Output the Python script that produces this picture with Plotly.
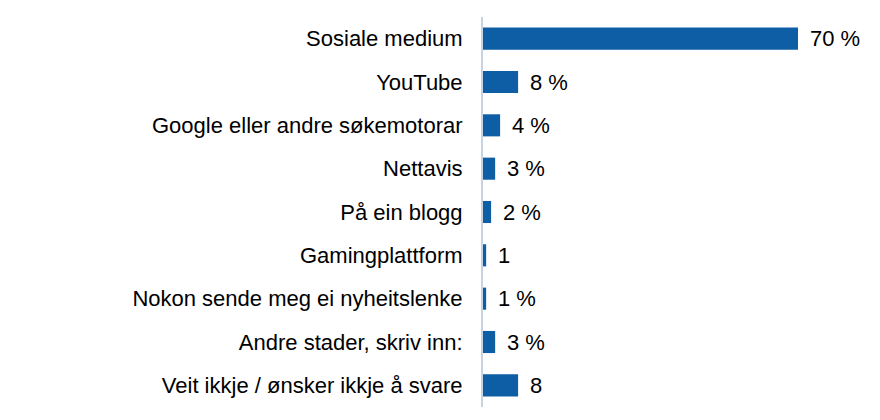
import plotly.graph_objects as go

categories = [
    "Sosiale medium",
    "YouTube",
    "Google eller andre søkemotorar",
    "Nettavis",
    "På ein blogg",
    "Gamingplattform",
    "Nokon sende meg ei nyheitslenke",
    "Andre stader, skriv inn:",
    "Veit ikkje / ønsker ikkje å svare",
]
values = [70, 7.8, 3.8, 2.7, 1.8, 0.7, 0.7, 2.7, 7.8]
value_labels = ["70 %", "8 %", "4 %", "3 %", "2 %", "1", "1 %", "3 %", "8"]

bar_color = "#0e5ea6"
font_family = "Liberation Sans, Arial, sans-serif"
fsize = 22

fig = go.Figure()
fig.add_trace(go.Bar(
    x=values,
    y=categories,
    orientation="h",
    marker=dict(color=bar_color, line=dict(width=0)),
    width=0.51,
    hoverinfo="skip",
))

for cat, v, lab in zip(categories, values, value_labels):
    fig.add_annotation(
        x=v, y=cat, text=lab, showarrow=False,
        xanchor="left", yanchor="middle", xshift=10,
        font=dict(size=fsize, color="#000000", family=font_family),
    )

fig.update_layout(
    width=872, height=412,
    margin=dict(l=475, r=37, t=9, b=13),
    paper_bgcolor="white", plot_bgcolor="white",
    showlegend=False,
    font=dict(family=font_family, size=fsize, color="#000000"),
)
fig.update_xaxes(range=[0, 80], visible=False, showgrid=False, zeroline=False)
fig.update_yaxes(
    autorange="reversed",
    showline=True, linecolor="#c5d3e3", linewidth=2,
    showgrid=False, zeroline=False,
    ticks="", ticklabelstandoff=14,
    tickfont=dict(size=fsize, color="#000000", family=font_family),
)

fig.write_html("out.html")
